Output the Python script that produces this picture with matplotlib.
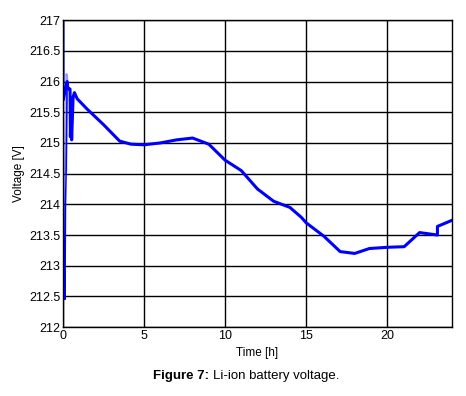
import numpy as np
import matplotlib
matplotlib.use("Agg")
from matplotlib import pyplot as plt

plt.rcParams['font.family'] = ['Liberation Sans', 'DejaVu Sans']

# main voltage trace (time in h, voltage in V)
t_main = [0.0, 0.0, 0.02, 0.26, 0.3, 0.36, 0.44, 0.46, 0.5, 0.54, 0.57,
          0.63, 0.71, 0.88, 1.5, 2.5, 3.5, 4.2, 5.0, 6.0, 7.0, 8.0, 9.0, 10.0, 11.0, 12.0, 13.0,
          14.0, 14.7, 15.0, 16.1, 17.1, 18.0, 18.9, 20.0, 21.05, 22.0, 23.1, 23.1, 24.0]
v_main = [217.0, 215.7, 215.7, 216.0, 215.9, 215.88, 215.88,
          215.1, 215.5, 215.05, 215.3, 215.75, 215.82, 215.72, 215.55, 215.3, 215.03, 214.98, 214.97,
          215.0, 215.05, 215.08, 214.98, 214.72, 214.55, 214.25, 214.05, 213.95, 213.79, 213.7, 213.48,
          213.23, 213.2, 213.28, 213.3, 213.31, 213.54, 213.5, 213.64, 213.74]

# thin dip right after start
t_dip = [0.02, 0.05, 0.08, 0.1, 0.12, 0.14, 0.16, 0.2, 0.26]
v_dip = [215.7, 213.5, 213.0, 212.7, 212.45, 213.0, 214.0, 214.55, 216.0]

# light overshoot trace at start
t_light = [0.18, 0.2, 0.22, 0.25, 0.28]
v_light = [214.5, 214.55, 216.12, 216.1, 215.9]

fig = plt.figure(figsize=(4.66, 3.96), dpi=100)
ax = fig.add_axes([0.135, 0.174, 0.835, 0.775])

ax.plot(t_light, v_light, color='#8080ff', lw=1.6, alpha=0.8)
ax.plot(t_dip, v_dip, color='#0000ff', lw=1.1)
ax.plot(t_main, v_main, color='#0000ff', lw=2.2)

ax.set_xlim(0, 24)
ax.set_ylim(212, 217)
ax.set_xticks([0, 5, 10, 15, 20])
ax.set_yticks(np.arange(212, 217.01, 0.5))
ax.set_yticklabels(['212', '212.5', '213', '213.5', '214', '214.5', '215', '215.5', '216', '216.5', '217'])
ax.grid(True, color='black', lw=1.0)
ax.tick_params(labelsize=9, length=0, pad=2)
for s in ax.spines.values():
    s.set_linewidth(1.0)

ax.set_xlabel('Time [h]', fontsize=8.5, labelpad=4)
ax.set_ylabel('Voltage [V]', fontsize=8.5, labelpad=3)

fig.text(0.328, 0.043, 'Figure 7:', fontsize=9.5, fontweight='bold', ha='left')
fig.text(0.458, 0.043, 'Li-ion battery voltage.', fontsize=9.5, ha='left')

fig.savefig('out.png', dpi=100)
